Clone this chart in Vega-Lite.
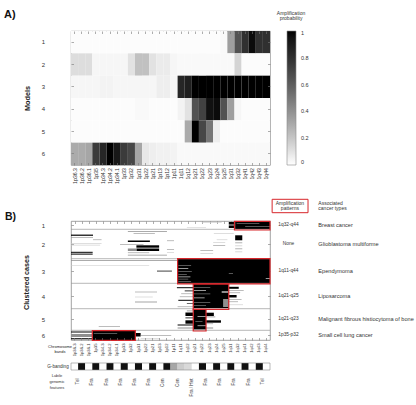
{
"$schema":"https://vega.github.io/schema/vega-lite/v6.json",
"padding":{"left":3,"top":8,"right":0,"bottom":0},
"autosize":{"type":"pad"},
"spacing":14,
"config":{"font":"Liberation Sans","view":{"stroke":"#8a8a8a","strokeWidth":0.8},"axis":{"labelColor":"#333","titleColor":"#222","tickColor":"#777","tickWidth":0.6,"grid":false,"domain":false},"legend":{"labelColor":"#333","titleColor":"#333"},"text":{"color":"#333"}},
"resolve":{"scale":{"color":"independent"},"legend":{"color":"independent"}},
"datasets":{
"bands":[
{"band":"1p36.3","stain":"light","feat":"Tel"},{"band":"1p36.2","stain":"dark","feat":""},{"band":"1p36.1","stain":"light","feat":"Fra"},{"band":"1p35","stain":"dark","feat":""},{"band":"1p34.3","stain":"light","feat":""},{"band":"1p34.2","stain":"dark","feat":""},{"band":"1p34.1","stain":"light","feat":""},{"band":"1p33","stain":"dark","feat":""},{"band":"1p32","stain":"light","feat":"Fra"},{"band":"1p31","stain":"dark","feat":"Fra"},{"band":"1p22","stain":"light","feat":"Fra"},{"band":"1p21","stain":"dark","feat":"Fra"},{"band":"1p13","stain":"light","feat":""},{"band":"1p12","stain":"dark","feat":""},{"band":"1p11","stain":"cen1","feat":"Cen"},{"band":"1q11","stain":"cen2","feat":"Cen"},{"band":"1q12","stain":"het","feat":"Fra / Het"},{"band":"1q21","stain":"light","feat":"Fra"},{"band":"1q22","stain":"dark","feat":""},{"band":"1q23","stain":"light","feat":""},{"band":"1q24","stain":"dark","feat":""},{"band":"1q25","stain":"light","feat":"Fra"},{"band":"1q31","stain":"dark","feat":"Fra"},{"band":"1q32","stain":"light","feat":""},{"band":"1q41","stain":"dark","feat":""},{"band":"1q42","stain":"light","feat":"Fra"},{"band":"1q43","stain":"dark","feat":""},{"band":"1q44","stain":"light","feat":"Tel"}],
"models":[
{"m":1,"b":"1p36.3","p":0.01},{"m":1,"b":"1p36.2","p":0.01},{"m":1,"b":"1p36.1","p":0.01},{"m":1,"b":"1p35","p":0.01},{"m":1,"b":"1p34.3","p":0.01},{"m":1,"b":"1p34.2","p":0.01},{"m":1,"b":"1p34.1","p":0.01},{"m":1,"b":"1p33","p":0.01},{"m":1,"b":"1p32","p":0.01},{"m":1,"b":"1p31","p":0.01},{"m":1,"b":"1p22","p":0.01},{"m":1,"b":"1p21","p":0.01},{"m":1,"b":"1p13","p":0.01},{"m":1,"b":"1p12","p":0.01},{"m":1,"b":"1p11","p":0.01},{"m":1,"b":"1q11","p":0.01},{"m":1,"b":"1q12","p":0.01},{"m":1,"b":"1q21","p":0.01},{"m":1,"b":"1q22","p":0.01},{"m":1,"b":"1q23","p":0.01},{"m":1,"b":"1q24","p":0.01},{"m":1,"b":"1q25","p":0.02},{"m":1,"b":"1q31","p":0.35},{"m":1,"b":"1q32","p":0.65},{"m":1,"b":"1q41","p":0.8},{"m":1,"b":"1q42","p":0.97},{"m":1,"b":"1q43","p":0.8},{"m":1,"b":"1q44","p":0.8},
{"m":2,"b":"1p36.3","p":0.12},{"m":2,"b":"1p36.2","p":0.12},{"m":2,"b":"1p36.1","p":0.12},{"m":2,"b":"1p35","p":0.03},{"m":2,"b":"1p34.3","p":0.03},{"m":2,"b":"1p34.2","p":0.03},{"m":2,"b":"1p34.1","p":0.03},{"m":2,"b":"1p33","p":0.03},{"m":2,"b":"1p32","p":0.1},{"m":2,"b":"1p31","p":0.22},{"m":2,"b":"1p22","p":0.22},{"m":2,"b":"1p21","p":0.1},{"m":2,"b":"1p13","p":0.07},{"m":2,"b":"1p12","p":0.07},{"m":2,"b":"1p11","p":0.03},{"m":2,"b":"1q11","p":0.02},{"m":2,"b":"1q12","p":0.02},{"m":2,"b":"1q21","p":0.02},{"m":2,"b":"1q22","p":0.02},{"m":2,"b":"1q23","p":0.02},{"m":2,"b":"1q24","p":0.02},{"m":2,"b":"1q25","p":0.02},{"m":2,"b":"1q31","p":0.02},{"m":2,"b":"1q32","p":0.15},{"m":2,"b":"1q41","p":0.01},{"m":2,"b":"1q42","p":0.01},{"m":2,"b":"1q43","p":0.01},{"m":2,"b":"1q44","p":0.01},
{"m":3,"b":"1p36.3","p":0.03},{"m":3,"b":"1p36.2","p":0.03},{"m":3,"b":"1p36.1","p":0.03},{"m":3,"b":"1p35","p":0.03},{"m":3,"b":"1p34.3","p":0.04},{"m":3,"b":"1p34.2","p":0.04},{"m":3,"b":"1p34.1","p":0.03},{"m":3,"b":"1p33","p":0.03},{"m":3,"b":"1p32","p":0.03},{"m":3,"b":"1p31","p":0.03},{"m":3,"b":"1p22","p":0.03},{"m":3,"b":"1p21","p":0.03},{"m":3,"b":"1p13","p":0.06},{"m":3,"b":"1p12","p":0.06},{"m":3,"b":"1p11","p":0.03},{"m":3,"b":"1q11","p":0.85},{"m":3,"b":"1q12","p":0.88},{"m":3,"b":"1q21","p":1},{"m":3,"b":"1q22","p":1},{"m":3,"b":"1q23","p":1},{"m":3,"b":"1q24","p":1},{"m":3,"b":"1q25","p":1},{"m":3,"b":"1q31","p":1},{"m":3,"b":"1q32","p":1},{"m":3,"b":"1q41","p":1},{"m":3,"b":"1q42","p":1},{"m":3,"b":"1q43","p":1},{"m":3,"b":"1q44","p":1},
{"m":4,"b":"1p36.3","p":0.01},{"m":4,"b":"1p36.2","p":0.01},{"m":4,"b":"1p36.1","p":0.01},{"m":4,"b":"1p35","p":0.01},{"m":4,"b":"1p34.3","p":0.01},{"m":4,"b":"1p34.2","p":0.01},{"m":4,"b":"1p34.1","p":0.01},{"m":4,"b":"1p33","p":0.01},{"m":4,"b":"1p32","p":0.01},{"m":4,"b":"1p31","p":0.02},{"m":4,"b":"1p22","p":0.02},{"m":4,"b":"1p21","p":0.01},{"m":4,"b":"1p13","p":0.01},{"m":4,"b":"1p12","p":0.01},{"m":4,"b":"1p11","p":0.01},{"m":4,"b":"1q11","p":0.04},{"m":4,"b":"1q12","p":0.1},{"m":4,"b":"1q21","p":0.65},{"m":4,"b":"1q22","p":0.72},{"m":4,"b":"1q23","p":0.95},{"m":4,"b":"1q24","p":0.97},{"m":4,"b":"1q25","p":0.65},{"m":4,"b":"1q31","p":0.35},{"m":4,"b":"1q32","p":0.03},{"m":4,"b":"1q41","p":0.01},{"m":4,"b":"1q42","p":0.01},{"m":4,"b":"1q43","p":0.01},{"m":4,"b":"1q44","p":0.01},
{"m":5,"b":"1p36.3","p":0.01},{"m":5,"b":"1p36.2","p":0.01},{"m":5,"b":"1p36.1","p":0.01},{"m":5,"b":"1p35","p":0.01},{"m":5,"b":"1p34.3","p":0.01},{"m":5,"b":"1p34.2","p":0.01},{"m":5,"b":"1p34.1","p":0.01},{"m":5,"b":"1p33","p":0.01},{"m":5,"b":"1p32","p":0.01},{"m":5,"b":"1p31","p":0.01},{"m":5,"b":"1p22","p":0.01},{"m":5,"b":"1p21","p":0.01},{"m":5,"b":"1p13","p":0.01},{"m":5,"b":"1p12","p":0.01},{"m":5,"b":"1p11","p":0.01},{"m":5,"b":"1q11","p":0.01},{"m":5,"b":"1q12","p":0.3},{"m":5,"b":"1q21","p":1},{"m":5,"b":"1q22","p":0.7},{"m":5,"b":"1q23","p":0.5},{"m":5,"b":"1q24","p":0.06},{"m":5,"b":"1q25","p":0.01},{"m":5,"b":"1q31","p":0.01},{"m":5,"b":"1q32","p":0.01},{"m":5,"b":"1q41","p":0.01},{"m":5,"b":"1q42","p":0.01},{"m":5,"b":"1q43","p":0.01},{"m":5,"b":"1q44","p":0.01},
{"m":6,"b":"1p36.3","p":0.3},{"m":6,"b":"1p36.2","p":0.3},{"m":6,"b":"1p36.1","p":0.32},{"m":6,"b":"1p35","p":0.75},{"m":6,"b":"1p34.3","p":0.85},{"m":6,"b":"1p34.2","p":1},{"m":6,"b":"1p34.1","p":0.92},{"m":6,"b":"1p33","p":0.75},{"m":6,"b":"1p32","p":0.7},{"m":6,"b":"1p31","p":0.32},{"m":6,"b":"1p22","p":0.08},{"m":6,"b":"1p21","p":0.06},{"m":6,"b":"1p13","p":0.05},{"m":6,"b":"1p12","p":0.05},{"m":6,"b":"1p11","p":0.04},{"m":6,"b":"1q11","p":0.02},{"m":6,"b":"1q12","p":0.02},{"m":6,"b":"1q21","p":0.02},{"m":6,"b":"1q22","p":0.02},{"m":6,"b":"1q23","p":0.02},{"m":6,"b":"1q24","p":0.02},{"m":6,"b":"1q25","p":0.02},{"m":6,"b":"1q31","p":0.02},{"m":6,"b":"1q32","p":0.02},{"m":6,"b":"1q41","p":0.02},{"m":6,"b":"1q42","p":0.02},{"m":6,"b":"1q43","p":0.02},{"m":6,"b":"1q44","p":0.02}],
"seg":[
{"a":0.5,"b":8.0,"s":23.1,"e":28,"k":"A"},{"a":1.0,"b":3.6,"s":22.2,"e":23.1,"k":"A"},{"a":4.4,"b":7.0,"s":22.2,"e":23.1,"k":"A"},{"a":2.4,"b":3.0,"s":23.3,"e":26.5,"k":"G"},{"a":5.0,"b":5.6,"s":24.5,"e":28,"k":"G"},{"a":1.4,"b":2.0,"s":18.4,"e":21.2,"k":"L"},{"a":6.0,"b":6.6,"s":16.3,"e":19.0,"k":"L"},
{"a":10.0,"b":10.7,"s":8.0,"e":13.5,"k":"G"},{"a":12.2,"b":12.8,"s":8.8,"e":11.8,"k":"G"},{"a":12.0,"b":12.6,"s":20.1,"e":22.9,"k":"L"},{"a":13.6,"b":14.8,"s":0,"e":3.1,"k":"A"},{"a":14.3,"b":19.3,"s":23.1,"e":24.1,"k":"A"},{"a":16.4,"b":17.0,"s":0,"e":3.1,"k":"G"},{"a":18.5,"b":19.1,"s":3.1,"e":4.3,"k":"G"},{"a":18.5,"b":19.1,"s":20.5,"e":22,"k":"L"},{"a":19.6,"b":21.0,"s":8.0,"e":11.1,"k":"A"},{"a":19.5,"b":20.1,"s":13.5,"e":14.5,"k":"G"},{"a":21.0,"b":21.6,"s":20.0,"e":21.7,"k":"L"},{"a":21.5,"b":22.2,"s":23.1,"e":24.1,"k":"G"},{"a":22.4,"b":23.0,"s":0,"e":4.3,"k":"L"},{"a":23.0,"b":23.6,"s":6.9,"e":10.2,"k":"G"},{"a":23.8,"b":24.4,"s":0,"e":4.1,"k":"L"},{"a":24.0,"b":24.6,"s":20.0,"e":21.7,"k":"G"},{"a":24.5,"b":25.2,"s":23.1,"e":24.1,"k":"L"},{"a":24.3,"b":26.7,"s":9.2,"e":12.4,"k":"A"},{"a":27.5,"b":30.0,"s":9.2,"e":12.4,"k":"A"},{"a":27.5,"b":30.0,"s":8.0,"e":9.2,"k":"G"},{"a":27.5,"b":28.2,"s":23.1,"e":24.1,"k":"G"},{"a":28.0,"b":28.6,"s":13.5,"e":14.5,"k":"G"},{"a":29.0,"b":29.6,"s":18.2,"e":20,"k":"G"},{"a":30.5,"b":31.2,"s":23.1,"e":24.1,"k":"L"},{"a":30.8,"b":31.8,"s":0,"e":3.05,"k":"A"},{"a":31.0,"b":31.6,"s":13.5,"e":14.5,"k":"L"},{"a":31.5,"b":32.1,"s":8.0,"e":11.0,"k":"G"},{"a":32.0,"b":32.6,"s":18.2,"e":20,"k":"L"},{"a":32.6,"b":33.6,"s":0,"e":3.05,"k":"A"},{"a":33.8,"b":34.4,"s":8.0,"e":13.5,"k":"G"},
{"a":37.9,"b":62.5,"s":15.0,"e":28,"k":"A"},{"a":44.3,"b":44.9,"s":15.1,"e":16.9,"k":"G"},{"a":47.3,"b":47.9,"s":15.1,"e":16.5,"k":"W"},{"a":50.3,"b":50.9,"s":15.1,"e":17.0,"k":"G"},{"a":53.3,"b":53.9,"s":15.1,"e":16.3,"k":"G"},{"a":55.6,"b":56.2,"s":15.1,"e":16.8,"k":"W"},{"a":57.8,"b":58.4,"s":15.1,"e":16.5,"k":"G"},{"a":60.0,"b":60.6,"s":15.1,"e":16.9,"k":"G"},{"a":57.4,"b":58.0,"s":27.4,"e":28,"k":"W"},{"a":52.4,"b":53.0,"s":22.2,"e":22.8,"k":"G"},{"a":39.2,"b":39.9,"s":0,"e":15,"k":"G"},{"a":44.0,"b":44.6,"s":0,"e":11,"k":"L"},{"a":49.3,"b":51.0,"s":12.1,"e":14.2,"k":"G"},
{"a":63.0,"b":87.0,"s":17.2,"e":22.2,"k":"A"},{"a":66.0,"b":66.6,"s":17.3,"e":19.6,"k":"G"},{"a":69.0,"b":69.6,"s":17.3,"e":19.0,"k":"W"},{"a":72.6,"b":73.2,"s":17.3,"e":19.6,"k":"G"},{"a":76.6,"b":77.2,"s":17.3,"e":18.8,"k":"W"},{"a":81.0,"b":81.6,"s":17.3,"e":19.6,"k":"G"},{"a":84.2,"b":84.8,"s":17.3,"e":19.0,"k":"G"},{"a":70.0,"b":72.0,"s":21.2,"e":22.2,"k":"G"},{"a":78.0,"b":86.0,"s":21.4,"e":22.2,"k":"G"},
{"a":66.2,"b":67.2,"s":14.9,"e":17.2,"k":"A"},{"a":69.5,"b":70.3,"s":16.0,"e":17.2,"k":"A"},{"a":72.5,"b":73.1,"s":15.5,"e":17.2,"k":"G"},{"a":75.5,"b":76.1,"s":15.3,"e":17.2,"k":"G"},{"a":78.8,"b":79.8,"s":15.1,"e":17.2,"k":"A"},{"a":82.3,"b":82.9,"s":16.3,"e":17.2,"k":"A"},{"a":85.5,"b":86.1,"s":15.0,"e":17.2,"k":"G"},
{"a":65.8,"b":67.8,"s":22.2,"e":23.6,"k":"A"},{"a":69.0,"b":69.6,"s":22.2,"e":24.3,"k":"G"},{"a":71.5,"b":72.1,"s":22.2,"e":23.8,"k":"G"},{"a":74.0,"b":76.5,"s":22.2,"e":23.3,"k":"A"},{"a":78.0,"b":78.6,"s":22.2,"e":24.0,"k":"G"},{"a":80.5,"b":81.1,"s":22.2,"e":23.5,"k":"G"},{"a":83.5,"b":84.1,"s":22.2,"e":24.2,"k":"L"},
{"a":70.7,"b":71.3,"s":9.0,"e":12.1,"k":"G"},{"a":75.7,"b":76.3,"s":9.0,"e":11.5,"k":"L"},{"a":80.6,"b":81.4,"s":9.0,"e":12.1,"k":"G"},
{"a":88.5,"b":108.5,"s":17.2,"e":19.0,"k":"A"},{"a":95.0,"b":95.6,"s":17.8,"e":19.0,"k":"W"},{"a":100.0,"b":100.6,"s":17.5,"e":18.5,"k":"G"},{"a":104.5,"b":105.1,"s":17.8,"e":19.0,"k":"W"},
{"a":89.5,"b":90.3,"s":16.3,"e":17.2,"k":"G"},{"a":91.5,"b":95.0,"s":16.1,"e":17.2,"k":"A"},{"a":96.5,"b":97.3,"s":16.1,"e":17.2,"k":"A"},{"a":99.3,"b":102.7,"s":16.1,"e":17.2,"k":"A"},{"a":103.5,"b":104.5,"s":15.0,"e":17.2,"k":"A"},{"a":106.5,"b":107.5,"s":15.0,"e":17.2,"k":"G"},
{"a":91.7,"b":95.0,"s":19.0,"e":20.1,"k":"A"},{"a":95.5,"b":96.3,"s":19.0,"e":20.3,"k":"G"},{"a":99.3,"b":101.7,"s":19.0,"e":21.1,"k":"A"},{"a":102.5,"b":103.1,"s":19.0,"e":20.0,"k":"G"},{"a":106.5,"b":107.5,"s":19.0,"e":20.0,"k":"G"},
{"a":110.0,"b":119.0,"s":3.0,"e":9.05,"k":"A"},{"a":112.4,"b":113.0,"s":3.2,"e":6.5,"k":"G"},{"a":110.5,"b":111.5,"s":0,"e":3.0,"k":"A"},{"a":113.0,"b":116.0,"s":0,"e":3.0,"k":"G"},{"a":117.2,"b":118.3,"s":0,"e":3.0,"k":"A"},{"a":112.0,"b":115.5,"s":9.05,"e":9.8,"k":"A"},{"a":114.0,"b":114.6,"s":9.8,"e":14.1,"k":"G"},{"a":117.0,"b":117.6,"s":9.8,"e":12.5,"k":"L"},{"a":105.0,"b":105.6,"s":3.9,"e":6.9,"k":"G"}],
"clusters":[
{"c":1,"end":8.3,"mid":4.2,"pat":"1q32-q44","can":"Breast cancer","ps":23,"pe":28,"pa":0.4,"pb":9},
{"c":2,"end":37.7,"mid":23,"pat":"None","can":"Glioblastoma multiforme"},
{"c":3,"end":62.3,"mid":50,"pat":"1q11-q44","can":"Ependymoma","ps":15,"pe":28,"pa":37.7,"pb":62.8},
{"c":4,"end":87.7,"mid":75,"pat":"1q21-q25","can":"Liposarcoma","ps":17.2,"pe":22.2,"pa":62.8,"pb":88.3},
{"c":5,"end":109.3,"mid":98,"pat":"1q21-q23","can":"Malignant fibrous histiocytoma of bone","ps":17.2,"pe":19,"pa":88.3,"pb":110},
{"c":6,"end":119,"mid":114,"pat":"1p35-p32","can":"Small cell lung cancer","ps":3,"pe":9.05,"pa":109.6,"pb":119.3}]
},
"vconcat":[
{
"width":199,"height":134,
"title":{"text":"A)","anchor":"start","frame":"group","dx":-67,"offset":-9,"fontSize":11,"fontWeight":"bold","color":"#111"},
"layer":[
{"data":{"name":"models"},"mark":{"type":"rect"},
"encoding":{
"x":{"field":"b","type":"ordinal","sort":null,"scale":{"paddingInner":0,"paddingOuter":0},"axis":{"orient":"bottom","title":null,"labelAngle":270,"labelAlign":"right","labelBaseline":"middle","labelFontSize":5.2,"labelPadding":5,"labelOverlap":false,"tickSize":-2.5}},
"y":{"field":"m","type":"ordinal","scale":{"paddingInner":0,"paddingOuter":0},"axis":{"title":"Models","titleFontSize":7.3,"titleFontWeight":"bold","titlePadding":10,"labelFontSize":6,"labelPadding":29,"tickSize":-2.5,"labelAngle":0}},
"color":{"field":"p","type":"quantitative","scale":{"domain":[0,1],"range":["#ffffff","#000000"]},"legend":{"orient":"none","legendX":216,"legendY":0,"direction":"vertical","gradientLength":134,"gradientThickness":9,"gradientStrokeColor":"#8a8a8a","gradientStrokeWidth":0.6,"title":null,"labelFontSize":5.5,"labelOffset":5,"values":[0,0.2,0.4,0.6,0.8,1],"format":"~g","padding":0}}
}},
{"data":{"name":"models"},"mark":{"type":"rect","opacity":0},
"encoding":{
"x":{"field":"b","type":"ordinal","sort":null,"scale":{"paddingInner":0,"paddingOuter":0},"axis":{"orient":"top","labels":false,"title":null,"tickSize":-2.5}},
"y":{"field":"m","type":"ordinal","scale":{"paddingInner":0,"paddingOuter":0},"axis":{"orient":"right","labels":false,"title":null,"tickSize":-2.5}}
}},
{"data":{"values":[{}]},"mark":{"type":"text","text":["Amplification","probability"],"fontSize":5,"lineHeight":5,"align":"center","baseline":"top"},
"encoding":{"x":{"datum":30.96,"type":"quantitative","scale":{"domain":[0,28]},"axis":null},"y":{"datum":-20,"type":"quantitative","scale":{"domain":[0,134],"reverse":true},"axis":null}}}
],
"resolve":{"scale":{"x":"independent","y":"independent"},"axis":{"x":"independent","y":"independent"}}
},
{
"width":199,"height":119,
"layer":[
{"data":{"name":"seg"},"mark":{"type":"rect"},
"encoding":{
"x":{"field":"s","type":"quantitative","scale":{"domain":[0,28]},"axis":{"orient":"top","labels":false,"title":null,"tickSize":-2.5,"values":[0.5,1.5,2.5,3.5,4.5,5.5,6.5,7.5,8.5,9.5,10.5,11.5,12.5,13.5,14.5,15.5,16.5,17.5,18.5,19.5,20.5,21.5,22.5,23.5,24.5,25.5,26.5,27.5]}},
"x2":{"field":"e"},
"y":{"field":"a","type":"quantitative","scale":{"domain":[0,119],"reverse":true},"axis":{"orient":"left","values":[4.2,23,50,75,98,114],"labelExpr":"datum.value < 10 ? '1' : datum.value < 30 ? '2' : datum.value < 60 ? '3' : datum.value < 85 ? '4' : datum.value < 105 ? '5' : '6'","labelFontSize":6,"labelPadding":29,"tickSize":-2.5,"title":"Clustered cases","titleFontSize":7.2,"titleFontWeight":"bold","titleX":-44.5,"titleY":61,"titleBaseline":"middle","titleAngle":270,"titleAlign":"center"}},
"y2":{"field":"b"},
"color":{"field":"k","type":"nominal","scale":{"domain":["A","G","L","W","dark","light","cen1","cen2","het"],"range":["#000000","#8f8f8f","#c8c8c8","#ffffff","#111111","#ffffff","#a6a6a6","#cccccc","#d9d9d9"]},"legend":null}
}},
{"data":{"name":"clusters"},"transform":[{"filter":"datum.c < 6"}],"mark":{"type":"rule","stroke":"#9a9a9a","strokeWidth":0.7},
"encoding":{"y":{"field":"end","type":"quantitative","scale":{"domain":[0,119],"reverse":true},"axis":{"orient":"right","labels":false,"title":null,"values":[4.2,23,50,75,98,114],"tickSize":-2.5}}}},
{"data":{"name":"clusters"},"transform":[{"filter":"isValid(datum.ps)"}],"mark":{"type":"rect","filled":false,"stroke":"#d7262b","strokeWidth":1.2},
"encoding":{"x":{"field":"ps","type":"quantitative","scale":{"domain":[0,28]},"axis":null},"x2":{"field":"pe"},"y":{"field":"pa","type":"quantitative","scale":{"domain":[0,119],"reverse":true},"axis":null},"y2":{"field":"pb"}}},
{"data":{"name":"clusters"},"mark":{"type":"text","fontSize":4.8,"align":"center","baseline":"middle"},
"encoding":{"x":{"datum":30.6,"type":"quantitative","scale":{"domain":[0,28]},"axis":null},"y":{"field":"mid","type":"quantitative","scale":{"domain":[0,119],"reverse":true},"axis":null},"text":{"field":"pat"}}},
{"data":{"name":"clusters"},"mark":{"type":"text","fontSize":5.6,"align":"left","baseline":"middle"},
"encoding":{"x":{"datum":34.8,"type":"quantitative","scale":{"domain":[0,28]},"axis":null},"y":{"field":"mid","type":"quantitative","scale":{"domain":[0,119],"reverse":true},"axis":null},"text":{"field":"can"}}},
{"data":{"values":[{}]},"mark":{"type":"text","text":["Amplification","patterns"],"fontSize":5,"lineHeight":5.2,"align":"center","baseline":"top"},
"encoding":{"x":{"datum":30.8,"type":"quantitative","scale":{"domain":[0,28]},"axis":null},"y":{"datum":-20,"type":"quantitative","scale":{"domain":[0,119],"reverse":true},"axis":null}}},
{"data":{"values":[{}]},"mark":{"type":"text","text":["Associated","cancer types"],"fontSize":5,"lineHeight":5.2,"align":"left","baseline":"top"},
"encoding":{"x":{"datum":34.8,"type":"quantitative","scale":{"domain":[0,28]},"axis":null},"y":{"datum":-20.5,"type":"quantitative","scale":{"domain":[0,119],"reverse":true},"axis":null}}},
{"data":{"values":[{}]},"mark":{"type":"rect","filled":false,"stroke":"#d7262b","strokeWidth":1},
"encoding":{"x":{"datum":28.3,"type":"quantitative","scale":{"domain":[0,28]},"axis":null},"x2":{"datum":33.35},"y":{"datum":-21.7,"type":"quantitative","scale":{"domain":[0,119],"reverse":true},"axis":null},"y2":{"datum":-8.3}}},
{"data":{"values":[{}]},"mark":{"type":"text","text":"B)","fontSize":10.5,"fontWeight":"bold","align":"left","baseline":"alphabetic","color":"#111"},
"encoding":{"x":{"datum":-9.3,"type":"quantitative","scale":{"domain":[0,28]},"axis":null},"y":{"datum":-0.6,"type":"quantitative","scale":{"domain":[0,119],"reverse":true},"axis":null}}},
{"data":{"name":"bands"},"mark":{"type":"rect"},
"encoding":{
"x":{"field":"band","type":"ordinal","sort":null,"scale":{"paddingInner":0,"paddingOuter":0},"axis":{"orient":"bottom","labelAngle":270,"labelAlign":"right","labelBaseline":"middle","labelFontSize":4.2,"labelPadding":5.5,"labelOverlap":false,"tickSize":-2.5,"title":["Chromosome","bands"],"titleFontSize":4,"titleFontWeight":"normal","titleAngle":0,"titleAlign":"center","titleBaseline":"top","titleX":-11.5,"titleY":4,"titleLineHeight":5.5}},
"y":{"datum":142,"type":"quantitative","scale":{"domain":[0,119],"reverse":true},"axis":null},
"y2":{"datum":149},
"color":{"field":"stain","type":"nominal","scale":{"domain":["A","G","L","W","dark","light","cen1","cen2","het"],"range":["#000000","#8f8f8f","#c8c8c8","#ffffff","#111111","#ffffff","#a6a6a6","#cccccc","#d9d9d9"]},"legend":null}
}},
{"data":{"values":[{}]},"mark":{"type":"rect","filled":false,"stroke":"#8a8a8a","strokeWidth":0.6},
"encoding":{"x":{"datum":0,"type":"quantitative","scale":{"domain":[0,28]},"axis":null},"x2":{"datum":28},"y":{"datum":142,"type":"quantitative","scale":{"domain":[0,119],"reverse":true},"axis":null},"y2":{"datum":149}}},
{"data":{"name":"bands"},"transform":[{"filter":"datum.feat != ''"}],"mark":{"type":"text","angle":270,"align":"right","baseline":"middle","fontSize":4.6},
"encoding":{"x":{"field":"band","type":"ordinal","sort":null,"scale":{"paddingInner":0,"paddingOuter":0},"axis":null},"y":{"datum":157.5,"type":"quantitative","scale":{"domain":[0,119],"reverse":true},"axis":null},"text":{"field":"feat"}}},
{"data":{"values":[{}]},"mark":{"type":"text","text":"G-banding","fontSize":4.6,"align":"center","baseline":"middle"},
"encoding":{"x":{"datum":-1.83,"type":"quantitative","scale":{"domain":[0,28]},"axis":null},"y":{"datum":145.5,"type":"quantitative","scale":{"domain":[0,119],"reverse":true},"axis":null}}},
{"data":{"values":[{}]},"mark":{"type":"text","text":["Labile","genomic","features"],"fontSize":4,"lineHeight":6,"align":"center","baseline":"top"},
"encoding":{"x":{"datum":-1.97,"type":"quantitative","scale":{"domain":[0,28]},"axis":null},"y":{"datum":152.5,"type":"quantitative","scale":{"domain":[0,119],"reverse":true},"axis":null}}}
],
"resolve":{"scale":{"x":"independent"},"axis":{"x":"independent","y":"independent"}}
}
]
}
